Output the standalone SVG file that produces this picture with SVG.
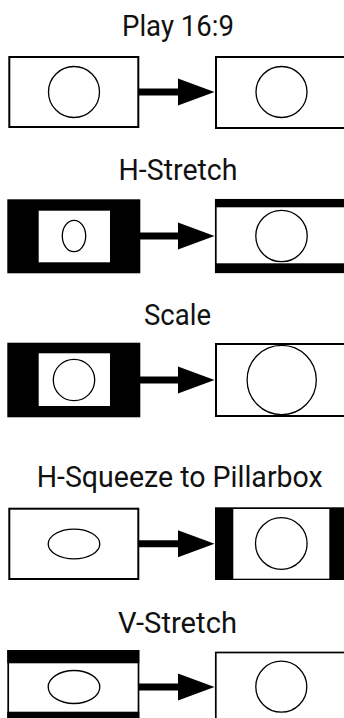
<svg xmlns="http://www.w3.org/2000/svg" width="344" height="718" viewBox="0 0 344 718">
<style>
.t{font-family:Roboto,"Liberation Sans",sans-serif;font-size:29px;fill:#111;text-anchor:middle}
.box{fill:#fff;stroke:#000;stroke-width:2}
.thin{fill:#fff;stroke:#000;stroke-width:1.7}
.blk{fill:#000}
.wht{fill:#fff}
.c{fill:#fff;stroke:#000;stroke-width:1.3}
.arr{stroke:#000;stroke-width:7;fill:none}
</style>
<defs>
<marker id="ah" markerUnits="userSpaceOnUse" markerWidth="37" markerHeight="28" refX="0" refY="13.5" orient="auto" overflow="visible">
<path d="M0,0 L36.5,13.5 L0,27 Z" fill="#000"/>
</marker>
</defs>
<g id="titles">
<text class="t" x="178" y="36" textLength="112" lengthAdjust="spacingAndGlyphs">Play 16:9</text>
<text class="t" x="178" y="180" textLength="119" lengthAdjust="spacingAndGlyphs">H-Stretch</text>
<text class="t" x="177.5" y="325" textLength="67" lengthAdjust="spacingAndGlyphs">Scale</text>
<text class="t" x="179.7" y="487" textLength="286" lengthAdjust="spacingAndGlyphs">H-Squeeze to Pillarbox</text>
<text class="t" x="177.5" y="633" textLength="119" lengthAdjust="spacingAndGlyphs">V-Stretch</text>
</g>
<g id="connectors">
<line class="arr" x1="139" y1="92" x2="178" y2="92" marker-end="url(#ah)"/>
<line class="arr" x1="139" y1="236" x2="178" y2="236" marker-end="url(#ah)"/>
<line class="arr" x1="139" y1="380" x2="178" y2="380" marker-end="url(#ah)"/>
<line class="arr" x1="139" y1="543.7" x2="178" y2="543.7" marker-end="url(#ah)"/>
<line class="arr" x1="139" y1="687" x2="178" y2="687" marker-end="url(#ah)"/>
</g>
<g id="play-src">
<rect class="box" x="9.3" y="57" width="129" height="70"/>
<circle class="c" cx="74" cy="92" r="25.5"/>
</g>
<g id="play-dst">
<rect class="box" x="216" y="57" width="140" height="71"/>
<circle class="c" cx="281.5" cy="92" r="25.5"/>
</g>
<g id="hstretch-src">
<rect class="blk" x="7.3" y="199.3" width="133" height="74"/>
<rect class="wht" x="38.7" y="210.7" width="71.3" height="51.6"/>
<ellipse class="c" cx="74" cy="236" rx="11.7" ry="15.7"/>
</g>
<g id="hstretch-dst">
<rect class="thin" x="215.8" y="199.8" width="140" height="72.5"/>
<rect class="blk" x="215" y="199" width="140" height="8.3"/>
<rect class="blk" x="215" y="263.3" width="140" height="9"/>
<circle class="c" cx="281.5" cy="236" r="25.7"/>
</g>
<g id="scale-src">
<rect class="blk" x="7.3" y="342.7" width="133" height="74.6"/>
<rect class="wht" x="38.7" y="353.3" width="71.3" height="52.7"/>
<circle class="c" cx="74" cy="380" r="20.7"/>
</g>
<g id="scale-dst">
<rect class="box" x="216" y="344" width="140" height="72"/>
<circle class="c" cx="281.7" cy="380" r="34.6"/>
</g>
<g id="pillar-src">
<rect class="box" x="9.3" y="508.7" width="129" height="70.3"/>
<ellipse class="c" cx="74" cy="544" rx="25.8" ry="14.8"/>
</g>
<g id="pillar-dst">
<rect class="blk" x="215" y="507.3" width="140" height="72.7"/>
<rect class="wht" x="233.3" y="509" width="96" height="69.7"/>
<circle class="c" cx="281.3" cy="543.5" r="25.8"/>
</g>
<g id="vstretch-src">
<rect class="thin" x="8.2" y="651" width="130.3" height="75"/>
<rect class="blk" x="7.3" y="650" width="132" height="13.3"/>
<rect class="blk" x="7.3" y="711.7" width="132" height="12"/>
<ellipse class="c" cx="74" cy="687" rx="25.8" ry="16.5"/>
</g>
<g id="vstretch-dst">
<rect class="thin" x="215.8" y="652.5" width="140" height="80"/>
<circle class="c" cx="281.3" cy="686.7" r="25.5"/>
</g>
</svg>
